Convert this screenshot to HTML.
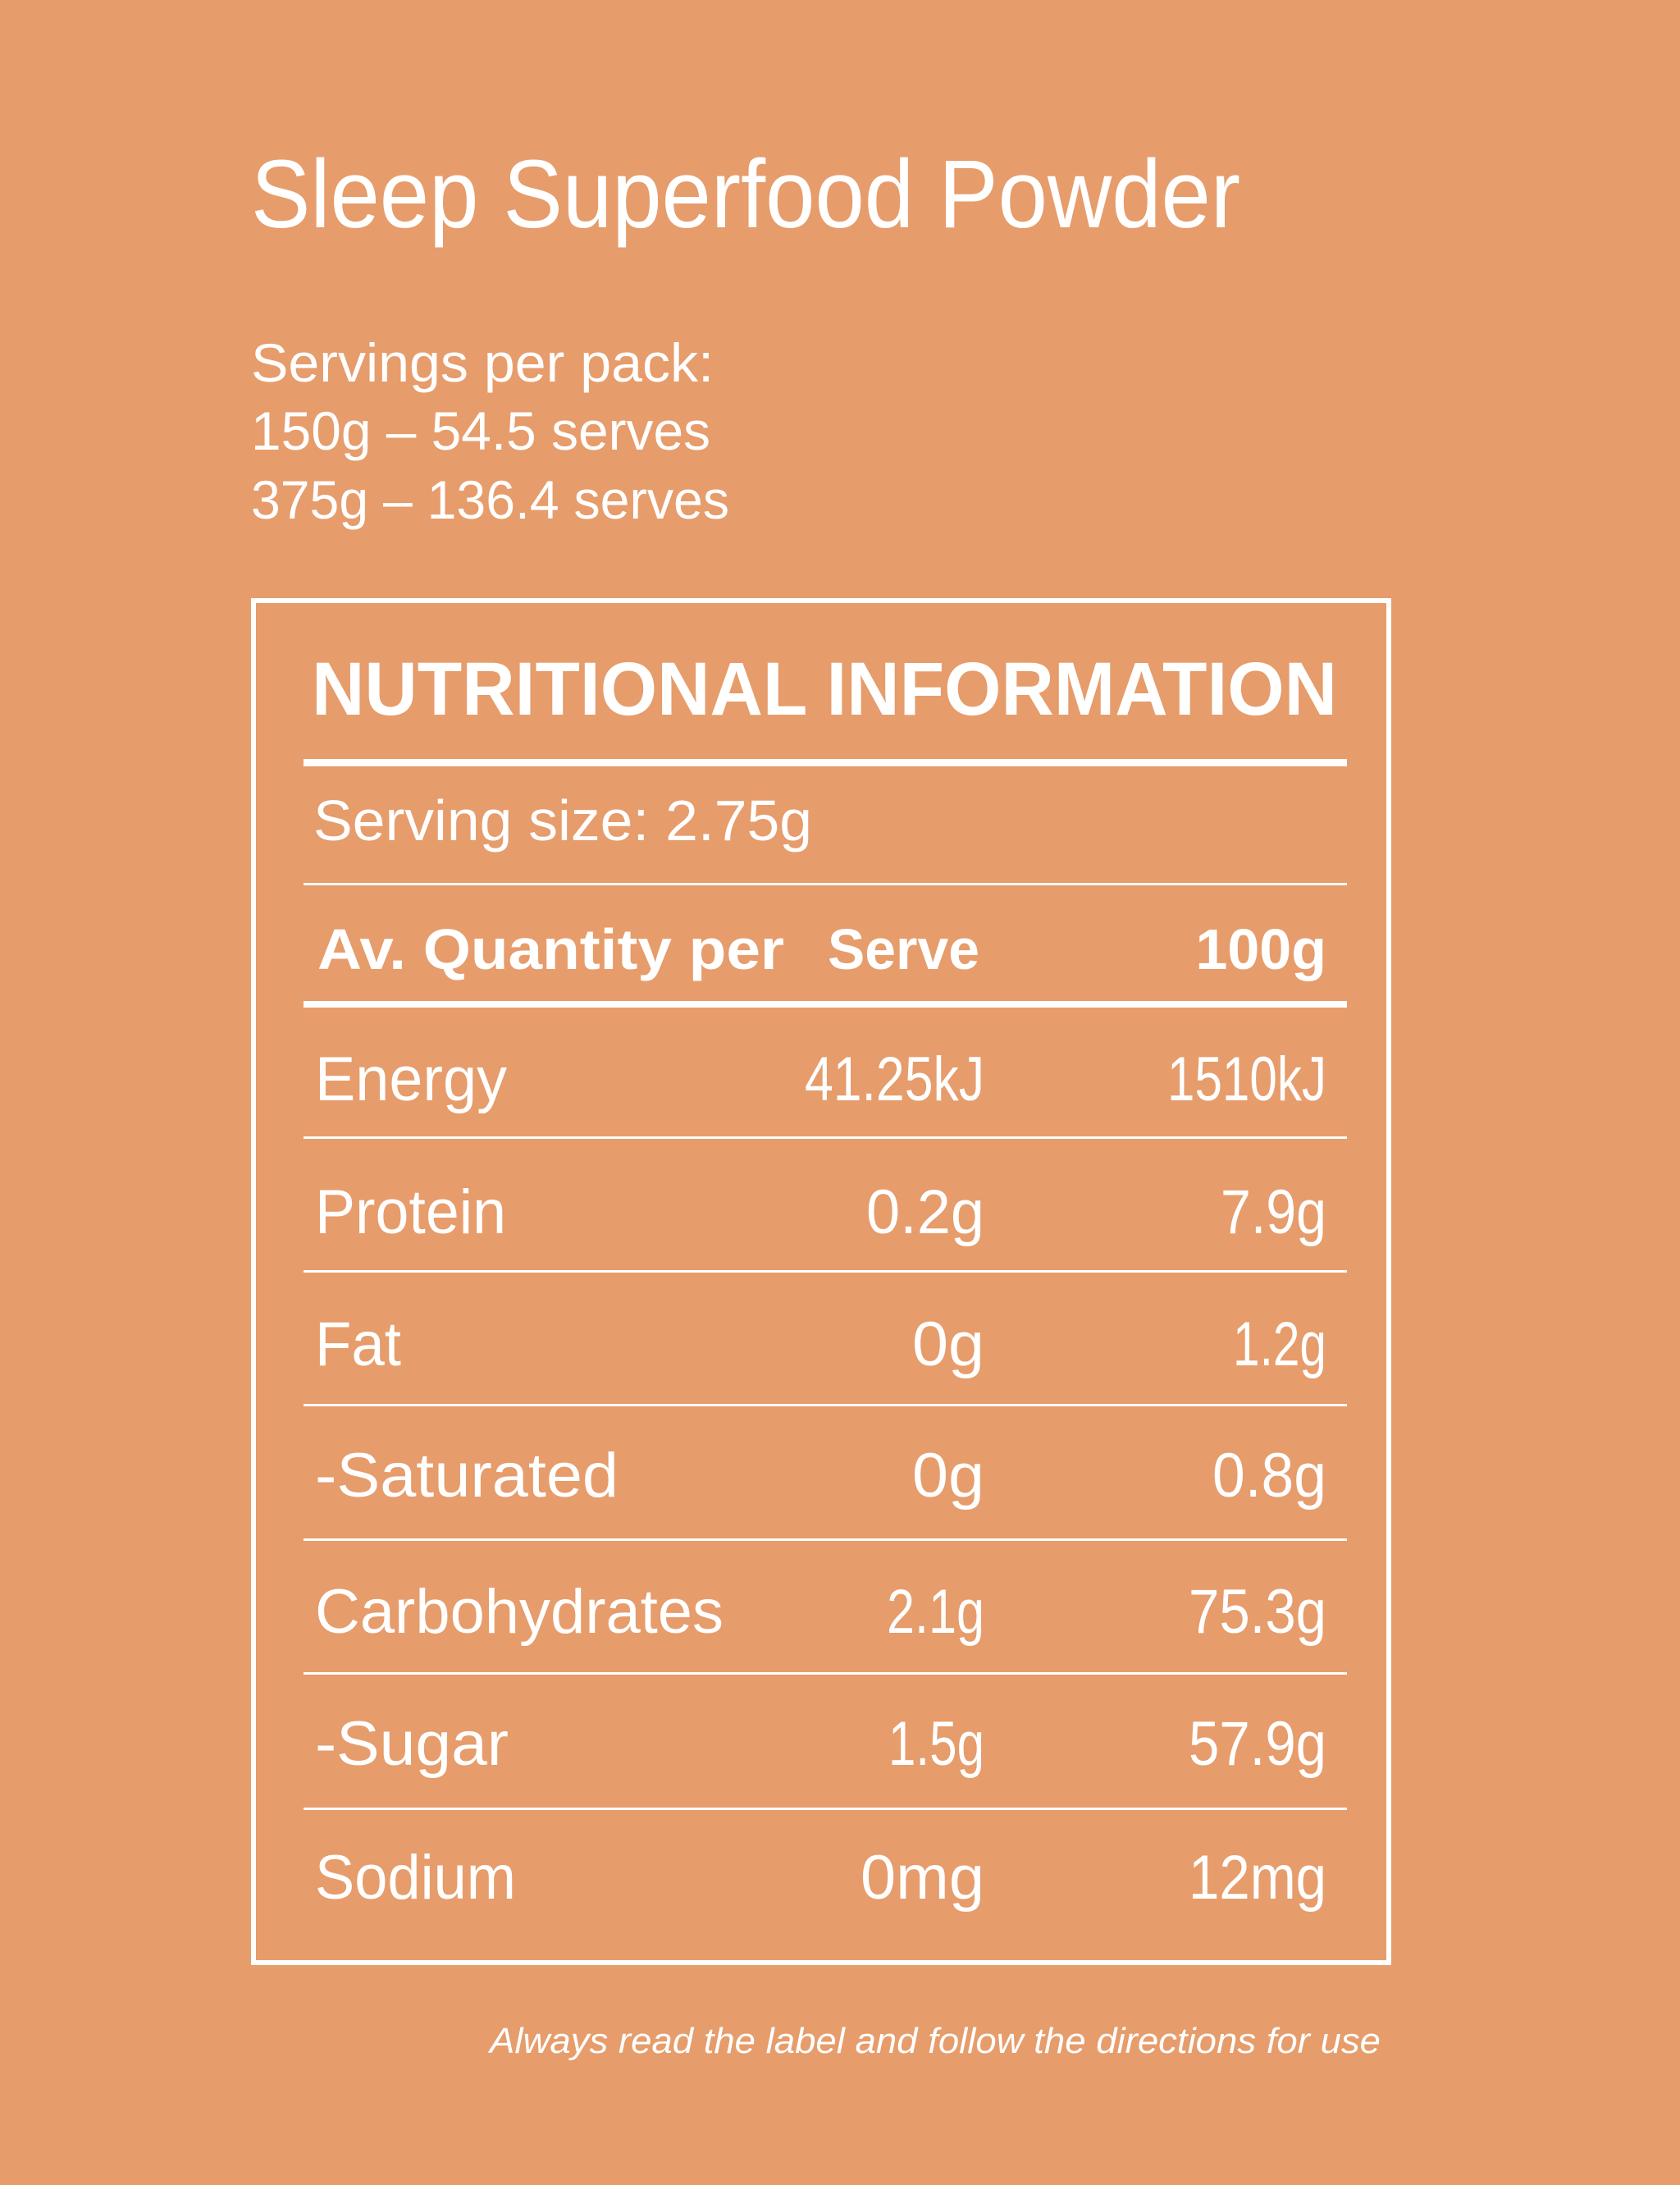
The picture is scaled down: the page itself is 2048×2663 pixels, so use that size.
<!DOCTYPE html>
<html><head><meta charset="utf-8"><style>
html,body{margin:0;padding:0;background:#E69C6B;}
svg{display:block;}
text{font-family:"Liberation Sans",sans-serif;fill:#fff;}
</style></head><body>
<svg width="2048" height="2663" viewBox="0 0 2048 2663" xmlns="http://www.w3.org/2000/svg">
<rect width="2048" height="2663" fill="#E69C6B"/>
<text x="306" y="277" font-size="118" textLength="1206" lengthAdjust="spacingAndGlyphs">Sleep Superfood Powder</text>
<text x="306" y="465" font-size="66" textLength="564" lengthAdjust="spacingAndGlyphs">Servings per pack:</text>
<text x="306" y="548" font-size="66" textLength="560" lengthAdjust="spacingAndGlyphs">150g – 54.5 serves</text>
<text x="306" y="632" font-size="66" textLength="583" lengthAdjust="spacingAndGlyphs">375g – 136.4 serves</text>
<rect x="309" y="732" width="1384" height="1660" fill="none" stroke="#fff" stroke-width="6"/>
<text x="380" y="871" font-size="92" font-weight="bold" textLength="1250" lengthAdjust="spacingAndGlyphs">NUTRITIONAL INFORMATION</text>
<rect x="370" y="925" width="1272" height="9" fill="#fff"/>
<text x="382" y="1024" font-size="70" textLength="608" lengthAdjust="spacingAndGlyphs">Serving size: 2.75g</text>
<rect x="370" y="1076" width="1272" height="3" fill="#fff"/>
<text x="387" y="1181" font-size="70" font-weight="bold" textLength="569" lengthAdjust="spacingAndGlyphs">Av. Quantity per</text>
<text x="1009" y="1181" font-size="70" font-weight="bold" textLength="185" lengthAdjust="spacingAndGlyphs">Serve</text>
<text x="1617" y="1181" font-size="70" font-weight="bold" text-anchor="end">100g</text>
<rect x="370" y="1220" width="1272" height="8" fill="#fff"/>
<g font-size="76">
<text x="384" y="1341" textLength="234" lengthAdjust="spacingAndGlyphs">Energy</text><text x="1200" y="1341" text-anchor="end" textLength="219" lengthAdjust="spacingAndGlyphs">41.25kJ</text><text x="1617" y="1341" text-anchor="end" textLength="194" lengthAdjust="spacingAndGlyphs">1510kJ</text>
<text x="384" y="1503" textLength="233" lengthAdjust="spacingAndGlyphs">Protein</text><text x="1200" y="1503" text-anchor="end" textLength="144" lengthAdjust="spacingAndGlyphs">0.2g</text><text x="1617" y="1503" text-anchor="end" textLength="129" lengthAdjust="spacingAndGlyphs">7.9g</text>
<text x="384" y="1664" textLength="105" lengthAdjust="spacingAndGlyphs">Fat</text><text x="1200" y="1664" text-anchor="end" textLength="88" lengthAdjust="spacingAndGlyphs">0g</text><text x="1617" y="1664" text-anchor="end" textLength="114" lengthAdjust="spacingAndGlyphs">1.2g</text>
<text x="384" y="1824" textLength="370" lengthAdjust="spacingAndGlyphs">-Saturated</text><text x="1200" y="1824" text-anchor="end" textLength="88" lengthAdjust="spacingAndGlyphs">0g</text><text x="1617" y="1824" text-anchor="end" textLength="139" lengthAdjust="spacingAndGlyphs">0.8g</text>
<text x="384" y="1990" textLength="498" lengthAdjust="spacingAndGlyphs">Carbohydrates</text><text x="1200" y="1990" text-anchor="end" textLength="119" lengthAdjust="spacingAndGlyphs">2.1g</text><text x="1617" y="1990" text-anchor="end" textLength="168" lengthAdjust="spacingAndGlyphs">75.3g</text>
<text x="384" y="2151" textLength="236" lengthAdjust="spacingAndGlyphs">-Sugar</text><text x="1200" y="2151" text-anchor="end" textLength="117" lengthAdjust="spacingAndGlyphs">1.5g</text><text x="1617" y="2151" text-anchor="end" textLength="168" lengthAdjust="spacingAndGlyphs">57.9g</text>
<text x="384" y="2314" textLength="245" lengthAdjust="spacingAndGlyphs">Sodium</text><text x="1200" y="2314" text-anchor="end" textLength="151" lengthAdjust="spacingAndGlyphs">0mg</text><text x="1617" y="2314" text-anchor="end" textLength="168" lengthAdjust="spacingAndGlyphs">12mg</text>
</g>
<g fill="#fff">
<rect x="370" y="1385" width="1272" height="3"/>
<rect x="370" y="1548" width="1272" height="3"/>
<rect x="370" y="1711" width="1272" height="3"/>
<rect x="370" y="1875" width="1272" height="3"/>
<rect x="370" y="2038" width="1272" height="3"/>
<rect x="370" y="2203" width="1272" height="3"/>
</g>
<text x="597" y="2502" font-size="44" font-style="italic" textLength="1086" lengthAdjust="spacingAndGlyphs">Always read the label and follow the directions for use</text>
</svg>
</body></html>
